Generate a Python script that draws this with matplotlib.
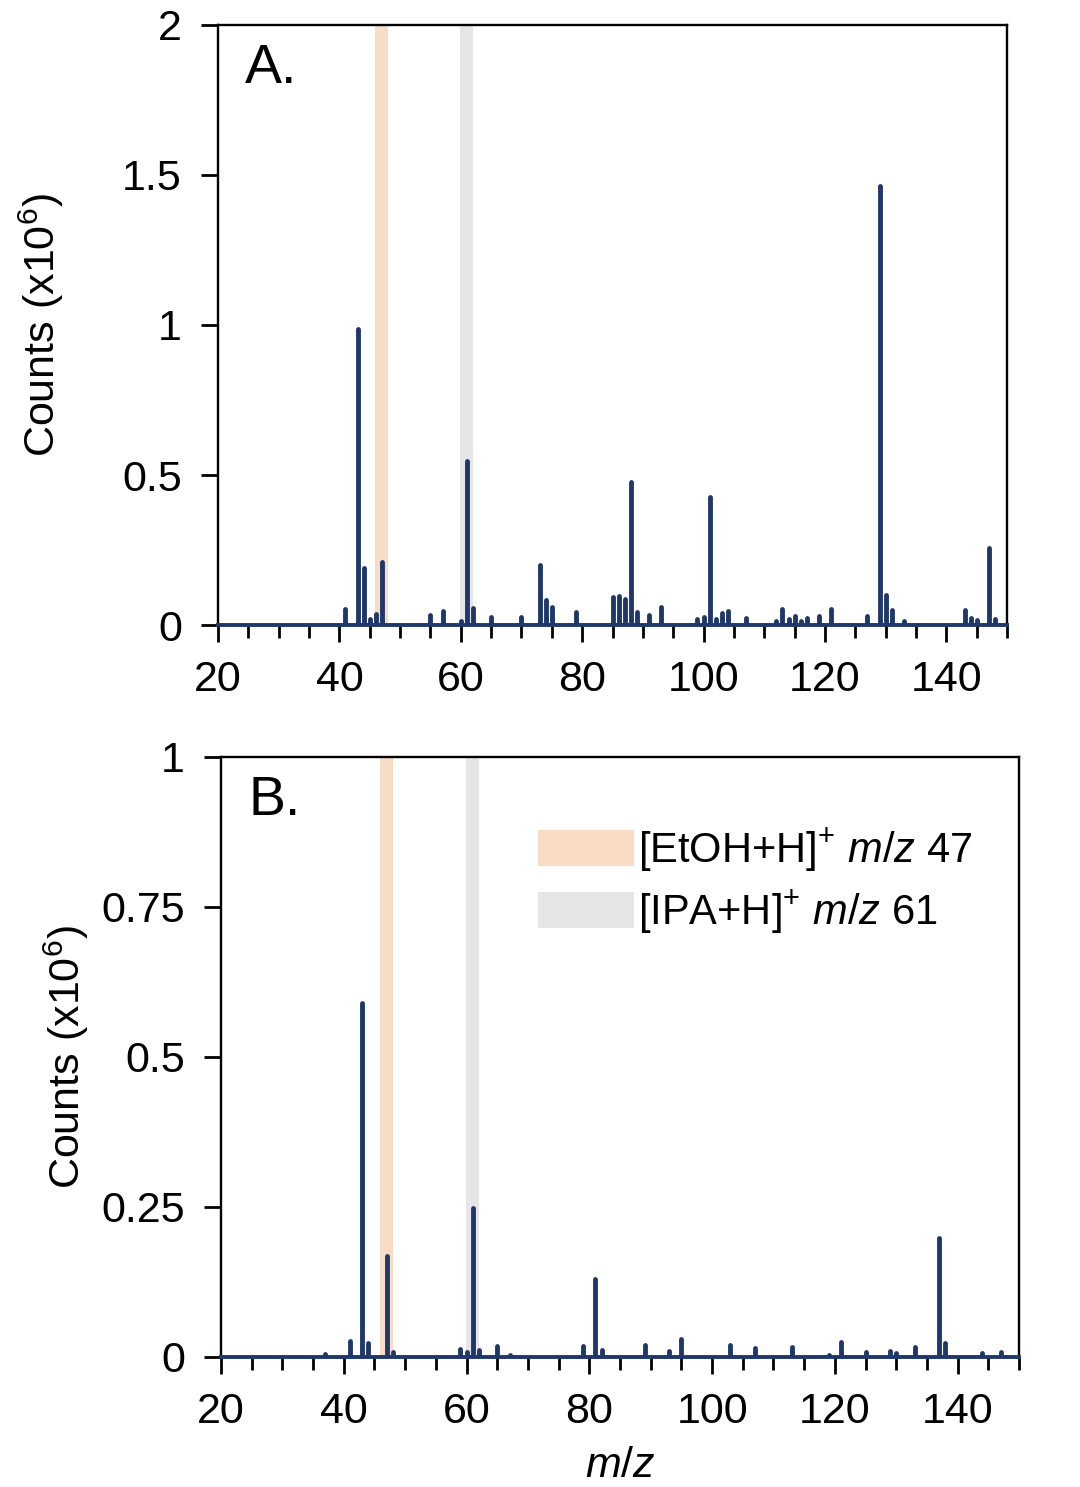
import matplotlib
matplotlib.use("Agg")
import matplotlib.pyplot as plt
from matplotlib.patches import Patch
from matplotlib.ticker import MultipleLocator, FixedLocator, FixedFormatter

plt.rcParams['font.family'] = ['Liberation Sans', 'DejaVu Sans']
plt.rcParams['mathtext.fontset'] = 'custom'
plt.rcParams['mathtext.rm'] = 'Liberation Sans'
plt.rcParams['mathtext.it'] = 'Liberation Sans:italic'

# ---------------- data ----------------
mz_a = [41, 43, 44, 45, 46, 47, 55, 57, 60, 61, 62, 65, 70, 73, 74, 75, 79, 85, 86, 87, 88,
        89, 91, 93, 99, 100, 101, 102, 103, 104, 107, 112, 113, 114, 115, 116, 117, 119, 121,
        127, 129, 130, 131, 133, 143, 144, 145, 147, 148]
counts_a = [0.052, 0.987, 0.19, 0.02, 0.037, 0.21, 0.033, 0.047, 0.015, 0.547, 0.056, 0.027,
            0.026, 0.2, 0.083, 0.059, 0.042, 0.093, 0.098, 0.088, 0.477, 0.043, 0.034, 0.061,
            0.019, 0.026, 0.427, 0.021, 0.041, 0.048, 0.022, 0.014, 0.054, 0.02, 0.03, 0.014,
            0.023, 0.031, 0.052, 0.031, 1.463, 0.1, 0.05, 0.014, 0.049, 0.022, 0.017, 0.257,
            0.019]

mz_b = [37, 41, 43, 44, 47, 48, 59, 60, 61, 62, 65, 67, 79, 81, 82, 89, 93, 95, 103, 107,
        113, 119, 121, 125, 129, 130, 133, 137, 138, 144, 147]
counts_b = [0.005, 0.027, 0.59, 0.023, 0.169, 0.008, 0.014, 0.008, 0.248, 0.011, 0.018, 0.003,
            0.018, 0.13, 0.011, 0.02, 0.01, 0.03, 0.02, 0.015, 0.016, 0.003, 0.025, 0.008,
            0.01, 0.007, 0.016, 0.198, 0.024, 0.007, 0.009]

highlight_mz = [47, 61]
highlight_labels = [r'[EtOH+H]$^{+}$ $\it{m/z}$ 47', r'[IPA+H]$^{+}$ $\it{m/z}$ 61']
panel_labels = ['A.', 'B.']
yticks_a = [0, 0.5, 1, 1.5, 2]
ytick_labels_a = ['0', '0.5', '1', '1.5', '2']
yticks_b = [0, 0.25, 0.5, 0.75, 1]
ytick_labels_b = ['0', '0.25', '0.5', '0.75', '1']
xticks = [20, 40, 60, 80, 100, 120, 140]

# ---------------- style ----------------
NAVY = '#1f3769'
ORANGE = '#f8dcc6'
GREY = '#e6e6e8'
FS = 31

fig = plt.figure(figsize=(10.8, 14.87), dpi=100)
axA = fig.add_axes([218 / 1080, 1 - 625 / 1487, (1007 - 218) / 1080, 600 / 1487])
axB = fig.add_axes([221 / 1080, 1 - 1357 / 1487, (1019 - 221) / 1080, 600 / 1487])


def style(ax, mz, counts, ymax, yt, ytl, label, ylab_x):
    ax.set_xlim(20, 150)
    ax.set_ylim(0, ymax)
    for c, col in zip(highlight_mz, [ORANGE, GREY]):
        ax.axvspan(c - 1.1, c + 1.0, color=col, lw=0, zorder=0)
    lc = ax.vlines(mz, 0, counts, colors=NAVY, lw=3.5, zorder=3)
    lc.set_capstyle('round')
    for s in ['top', 'right', 'left']:
        ax.spines[s].set_linewidth(1.7)
        ax.spines[s].set_color('black')
    ax.spines['bottom'].set_color(NAVY)
    ax.spines['bottom'].set_linewidth(2.8)
    ax.spines['bottom'].set_zorder(4)
    ax.xaxis.set_major_locator(FixedLocator(xticks))
    ax.xaxis.set_minor_locator(MultipleLocator(5))
    ax.yaxis.set_major_locator(FixedLocator(yt))
    ax.yaxis.set_major_formatter(FixedFormatter(ytl))
    ax.tick_params(axis='x', which='major', direction='out', length=12, width=2,
                   color='black', labelsize=FS, pad=13)
    ax.tick_params(axis='x', which='minor', direction='out', length=9, width=2,
                   color='black')
    ax.tick_params(axis='y', which='major', direction='out', length=12, width=2,
                   color='black', labelsize=FS, pad=14)
    ax.set_ylabel(r'Counts (x10$^{6}$)', fontsize=FS)
    ax.yaxis.set_label_coords(ylab_x, 0.5)
    ax.text(0.034, 0.97, label, transform=ax.transAxes, fontsize=40, va='top', ha='left')


style(axA, mz_a, counts_a, 2, yticks_a, ytick_labels_a, panel_labels[0], -0.193)
style(axB, mz_b, counts_b, 1, yticks_b, ytick_labels_b, panel_labels[1], -0.163)

axB.set_xlabel(r'$\it{m/z}$', fontsize=FS)
axB.xaxis.set_label_coords(0.5, -0.148)

handles = [Patch(facecolor=ORANGE, edgecolor='none'), Patch(facecolor=GREY, edgecolor='none')]
axB.legend(handles, highlight_labels, loc='upper left', bbox_to_anchor=(0.397, 0.885),
           frameon=False, fontsize=30, handlelength=2.3, handleheight=0.95,
           handletextpad=0.1, labelspacing=0.35, borderpad=0, borderaxespad=0)

fig.savefig('out.png', dpi=100, facecolor='white')
